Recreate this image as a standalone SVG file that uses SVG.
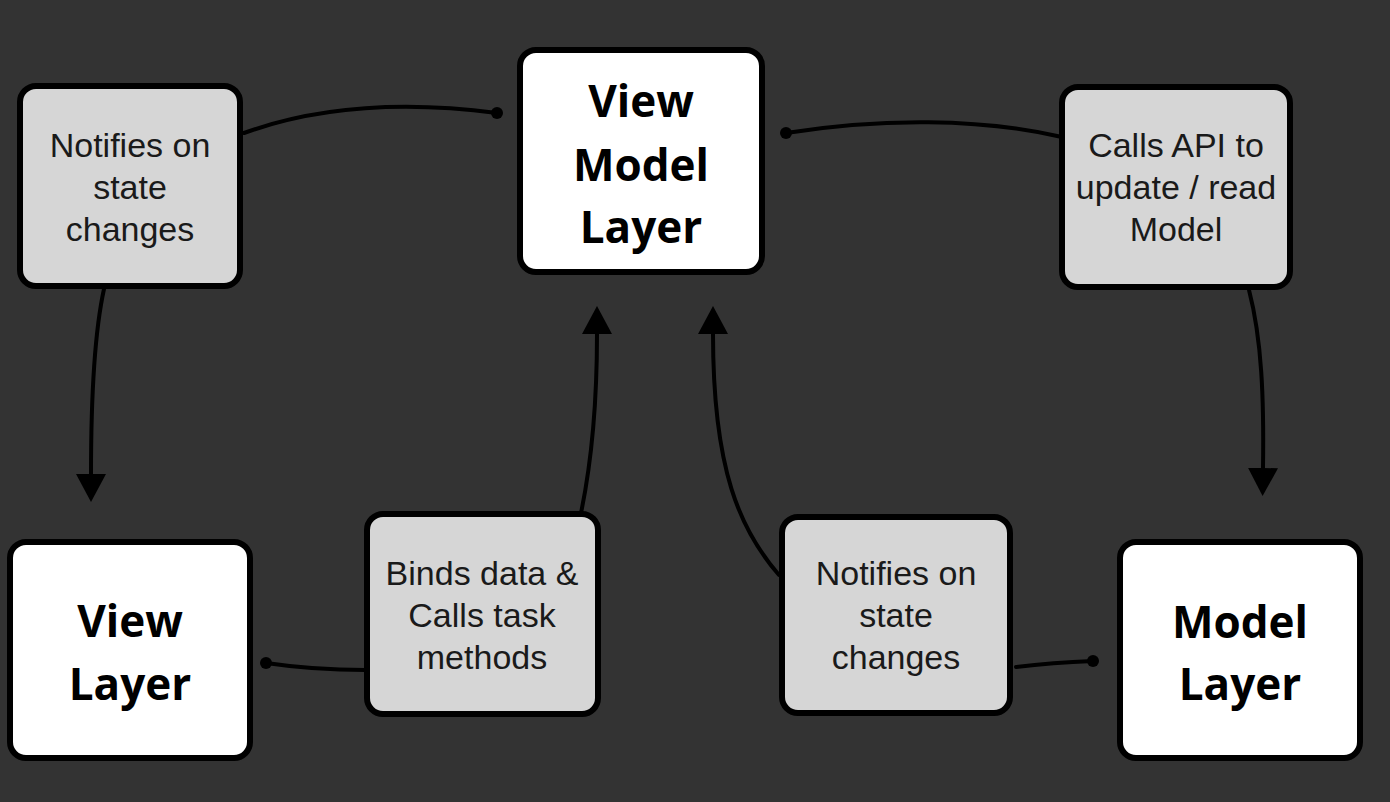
<svg xmlns="http://www.w3.org/2000/svg" width="1390" height="802" viewBox="0 0 1390 802">
<defs>
<style>
.bg{fill:#333333}
.box{stroke:#000;stroke-width:6;stroke-linejoin:round}
.grey{fill:#d6d6d6}
.white{fill:#ffffff}
.lbl{font-family:"Liberation Sans",Arial,Helvetica,sans-serif;font-size:34px;fill:#1a1a1a;text-anchor:middle}
.big{font-family:"Open Sans","Noto Sans",sans-serif;font-weight:bold;font-size:44px;fill:#000;text-anchor:middle}
.conn{fill:none;stroke:#000;stroke-width:4;stroke-linecap:round}
</style>
<marker id="arrow" viewBox="0 0 28 30" refX="0" refY="15" markerWidth="28" markerHeight="30" markerUnits="userSpaceOnUse" orient="auto">
<path d="M0,0 L28,15 L0,30 z" fill="#000"/>
</marker>
<marker id="dot" viewBox="0 0 14 14" refX="7" refY="7" markerWidth="14" markerHeight="14" markerUnits="userSpaceOnUse">
<circle cx="7" cy="7" r="6" fill="#000"/>
</marker>
</defs>
<rect class="bg" x="0" y="0" width="1390" height="802"/>
<g id="connectors">
<path class="conn" d="M 497 113 C 420 103, 330 102, 244 133" marker-start="url(#dot)"/>
<path class="conn" d="M 104 289 C 95 330, 91 400, 91 474" marker-end="url(#arrow)"/>
<path class="conn" d="M 786 133 C 880 118, 980 118, 1062 137" marker-start="url(#dot)"/>
<path class="conn" d="M 1249 290 C 1262 340, 1264 400, 1263 468" marker-end="url(#arrow)"/>
<path class="conn" d="M 581 513 C 592 460, 597 400, 597 334" marker-end="url(#arrow)"/>
<path class="conn" d="M 779 575 C 740 530, 713 470, 713 334" marker-end="url(#arrow)"/>
<path class="conn" d="M 266 663 C 300 668, 330 670, 365 670" marker-start="url(#dot)"/>
<path class="conn" d="M 1016 667 C 1040 664, 1065 662, 1093 661" marker-end="url(#dot)"/>
</g>
<g id="notify-top">
<rect class="box grey" x="20" y="86" width="220" height="200" rx="16"/>
<text class="lbl" x="130" y="157">Notifies on</text>
<text class="lbl" x="130" y="199">state</text>
<text class="lbl" x="130" y="241">changes</text>
</g>
<g id="viewmodel">
<rect class="box white" x="520" y="50" width="242" height="222" rx="16"/>
<text class="big" x="641" y="117">View</text>
<text class="big" x="641" y="181">Model</text>
<text class="big" x="641" y="243">Layer</text>
</g>
<g id="calls-api">
<rect class="box grey" x="1062" y="87" width="228" height="200" rx="16"/>
<text class="lbl" x="1176" y="157">Calls API to</text>
<text class="lbl" x="1176" y="199">update / read</text>
<text class="lbl" x="1176" y="241">Model</text>
</g>
<g id="view">
<rect class="box white" x="10" y="542" width="240" height="216" rx="16"/>
<text class="big" x="130" y="637">View</text>
<text class="big" x="130" y="700">Layer</text>
</g>
<g id="binds">
<rect class="box grey" x="367" y="514" width="231" height="200" rx="16"/>
<text class="lbl" x="482" y="585">Binds data &amp;</text>
<text class="lbl" x="482" y="627">Calls task</text>
<text class="lbl" x="482" y="669">methods</text>
</g>
<g id="notify-bottom">
<rect class="box grey" x="782" y="517" width="228" height="196" rx="16"/>
<text class="lbl" x="896" y="585">Notifies on</text>
<text class="lbl" x="896" y="627">state</text>
<text class="lbl" x="896" y="669">changes</text>
</g>
<g id="model">
<rect class="box white" x="1120" y="542" width="240" height="216" rx="16"/>
<text class="big" x="1240" y="638">Model</text>
<text class="big" x="1240" y="700">Layer</text>
</g>
</svg>
